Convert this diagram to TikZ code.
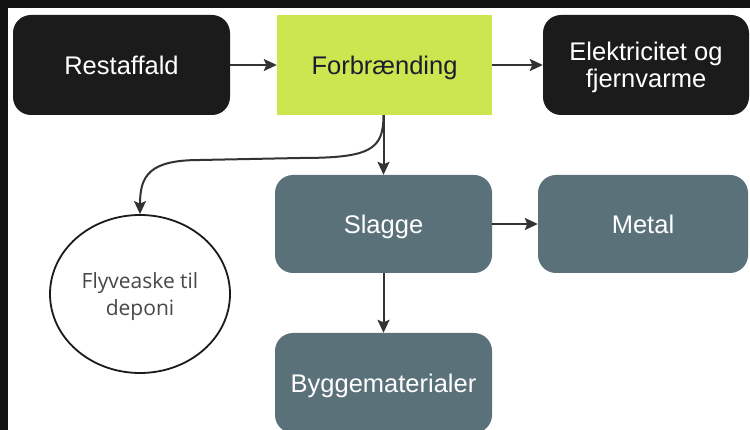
\documentclass[tikz,border=0pt]{standalone}
\usepackage{fontspec}
\setmainfont{Liberation Sans}
\newfontfamily\ashfont{Open Sans}
\usetikzlibrary{shapes.geometric,arrows.meta}

\definecolor{boxblack}{HTML}{1B1B1B}
\definecolor{lime}{HTML}{CCE64F}
\definecolor{slate}{HTML}{5B7179}
\definecolor{navy}{HTML}{1C1C30}
\definecolor{linegrey}{HTML}{333333}
\definecolor{frame}{HTML}{131313}

\tikzset{
  darkbox/.style={fill=boxblack, text=white, rounded corners=18pt, minimum height=100pt, align=center, text depth=0pt, font=\fontsize{25.5}{27}\selectfont},
  burnbox/.style={fill=lime, text=navy, minimum height=100pt, text depth=0pt, font=\fontsize{25.5}{27}\selectfont},
  slagbox/.style={fill=slate, text=white, rounded corners=18pt, minimum height=98pt, text depth=0pt, font=\fontsize{25.5}{27}\selectfont},
  ashnode/.style={ellipse, draw=boxblack, line width=1.8pt, minimum width=180pt, minimum height=158pt, align=center, text depth=0pt, text=black!72, font=\ashfont\fontsize{21}{27}\selectfont},
  flow/.style={draw=linegrey, line width=2pt, -{Stealth[length=13pt,width=12pt,inset=2.5pt]}}
}

\begin{document}
\begin{tikzpicture}[x=1pt,y=-1pt]
\useasboundingbox (0,0) rectangle (750,430);
\clip (0,0) rectangle (750,430);
\fill[white] (0,0) rectangle (750,430);
% dark edges of the screenshot
\fill[frame] (0,0) rectangle (750,8);
\fill[frame] (0,0) rectangle (8,430);

\node[darkbox, minimum width=217pt] (rest) at (121.5,65) {Restaffald};
\node[burnbox, minimum width=215pt] (burn) at (384.5,65) {Forbrænding};
\node[darkbox, minimum width=206pt] (power) at (646,65) {Elektricitet og\\fjernvarme};
\node[ashnode] (ash) at (140,294) {Flyveaske til\\deponi};
\node[slagbox, minimum width=217pt] (slag) at (383.5,224) {Slagge};
\node[slagbox, minimum width=210pt] (metal) at (643,224) {Metal};
\node[slagbox, minimum height=100pt, minimum width=217pt] (build) at (383.5,383) {Byggematerialer};

\draw[flow] (rest) -- (burn);
\draw[flow] (burn) -- (power);
\draw[flow] (burn.south -| slag.north) -- (slag.north);
\draw[flow] (burn.south -| slag.north) .. controls (383.5,150) and (370,158) .. (300,158)
  -- (200,160) .. controls (150,160) and (140,175) .. (ash.north);
\draw[flow] (slag) -- (metal);
\draw[flow] (slag) -- (build);
\end{tikzpicture}
\end{document}
